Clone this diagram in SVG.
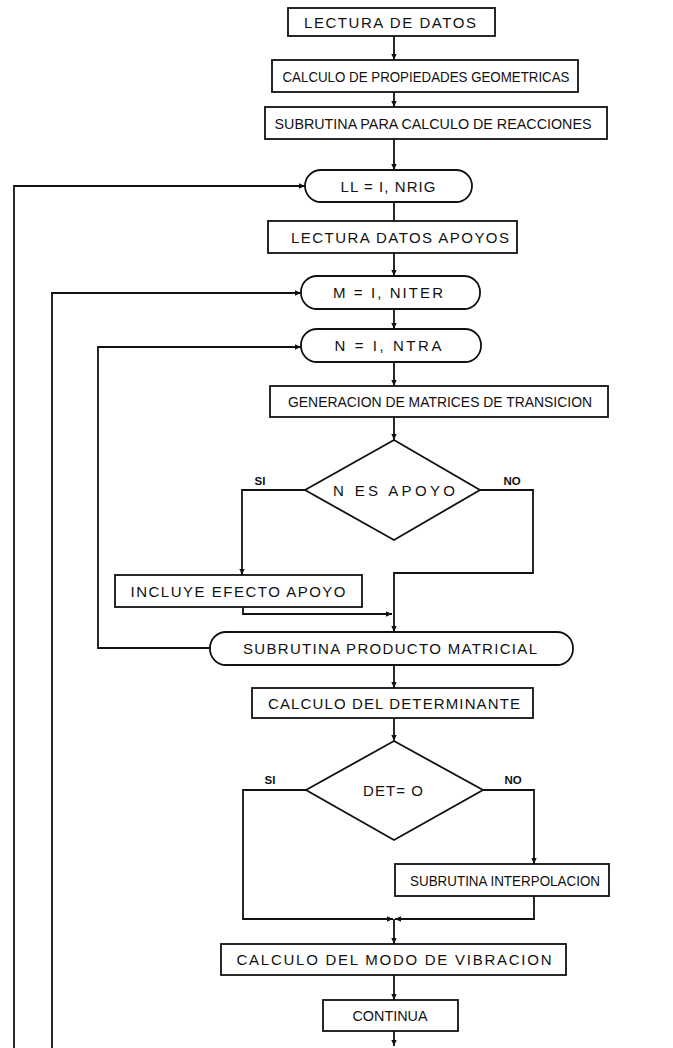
<svg xmlns="http://www.w3.org/2000/svg" width="673" height="1048" viewBox="0 0 673 1048">
<defs>
<style>
.box{fill:#fff;stroke:#111;stroke-width:1.8}
.ln{fill:none;stroke:#111;stroke-width:1.8}
.t{font-family:"Liberation Sans",Arial,sans-serif;font-size:15px;fill:#111;text-anchor:middle}
.lb{font-family:"Liberation Sans",Arial,sans-serif;font-size:11.5px;font-weight:bold;fill:#111;text-anchor:middle}
</style>
<marker id="ah" viewBox="0 0 10 10" refX="9" refY="5" markerWidth="7" markerHeight="7" orient="auto" markerUnits="userSpaceOnUse">
<path d="M0,1 L9,5 L0,9 z" fill="#111"/>
</marker>
</defs>
<rect width="673" height="1048" fill="#fff"/>
<g id="connectors">
<line class="ln" x1="394" y1="36" x2="394" y2="60" marker-end="url(#ah)"/>
<line class="ln" x1="394" y1="92" x2="394" y2="107" marker-end="url(#ah)"/>
<line class="ln" x1="394" y1="139" x2="394" y2="170" marker-end="url(#ah)"/>
<line class="ln" x1="394" y1="202" x2="394" y2="221"/>
<line class="ln" x1="394" y1="253" x2="394" y2="276" marker-end="url(#ah)"/>
<line class="ln" x1="394" y1="309" x2="394" y2="329" marker-end="url(#ah)"/>
<line class="ln" x1="394" y1="362" x2="394" y2="386" marker-end="url(#ah)"/>
<line class="ln" x1="394" y1="417" x2="394" y2="440" marker-end="url(#ah)"/>
<polyline class="ln" points="305,490 242,490 242,575" marker-end="url(#ah)"/>
<polyline class="ln" points="243,607 243,614 392,614" marker-end="url(#ah)"/>
<polyline class="ln" points="480,490 533,490 533,573 394,573 394,632" marker-end="url(#ah)"/>
<polyline class="ln" points="210,648 98,648 98,347 301,347" marker-end="url(#ah)"/>
<polyline class="ln" points="52,1048 52,293 301,293" marker-end="url(#ah)"/>
<polyline class="ln" points="14,1048 14,186 305,186" marker-end="url(#ah)"/>
<line class="ln" x1="394" y1="665" x2="394" y2="688" marker-end="url(#ah)"/>
<line class="ln" x1="394" y1="718" x2="394" y2="741" marker-end="url(#ah)"/>
<polyline class="ln" points="306,790 243,790 243,919 393,919" marker-end="url(#ah)"/>
<polyline class="ln" points="483,790 534,790 534,864" marker-end="url(#ah)"/>
<polyline class="ln" points="534,896 534,919 395,919" marker-end="url(#ah)"/>
<line class="ln" x1="394" y1="919" x2="394" y2="944" marker-end="url(#ah)"/>
<line class="ln" x1="394" y1="975" x2="394" y2="1000" marker-end="url(#ah)"/>
<line class="ln" x1="394" y1="1031" x2="394" y2="1046" marker-end="url(#ah)"/>
</g>
<g id="lectura-datos"><rect class="box" x="288" y="8" width="207" height="28"/><text class="t" x="390" y="28" textLength="172" lengthAdjust="spacing">LECTURA DE DATOS</text></g>
<g id="propiedades"><rect class="box" x="272" y="60" width="306" height="32"/><text class="t" x="426" y="81.5" textLength="287" lengthAdjust="spacingAndGlyphs">CALCULO DE PROPIEDADES GEOMETRICAS</text></g>
<g id="reacciones"><rect class="box" x="265" y="107" width="342" height="32"/><text class="t" x="433" y="128.5" textLength="317" lengthAdjust="spacingAndGlyphs">SUBRUTINA PARA CALCULO DE REACCIONES</text></g>
<g id="loop-ll"><rect class="box" x="305" y="170" width="167" height="32" rx="16"/><text class="t" x="388" y="191.5" textLength="95" lengthAdjust="spacing">LL = I, NRIG</text></g>
<g id="datos-apoyos"><rect class="box" x="268" y="221" width="249" height="32"/><text class="t" x="400" y="242.5" textLength="218" lengthAdjust="spacing">LECTURA DATOS APOYOS</text></g>
<g id="loop-m"><rect class="box" x="301" y="276" width="179" height="33" rx="16"/><text class="t" x="388" y="298" textLength="110" lengthAdjust="spacing">M = I, NITER</text></g>
<g id="loop-n"><rect class="box" x="301" y="329" width="180" height="33" rx="16"/><text class="t" x="388" y="351" textLength="107" lengthAdjust="spacing">N = I, NTRA</text></g>
<g id="generacion"><rect class="box" x="270" y="386" width="338" height="31"/><text class="t" x="440" y="407" textLength="304" lengthAdjust="spacingAndGlyphs">GENERACION DE MATRICES DE TRANSICION</text></g>
<g id="dec-apoyo"><polygon class="box" points="394,440 480,490 394,540 305,490"/><text class="t" x="394" y="496" textLength="122" lengthAdjust="spacing">N ES APOYO</text><text class="lb" x="260" y="485">SI</text><text class="lb" x="512" y="485">NO</text></g>
<g id="incluye"><rect class="box" x="115" y="575" width="247" height="32"/><text class="t" x="238" y="597" textLength="215" lengthAdjust="spacing">INCLUYE EFECTO APOYO</text></g>
<g id="producto"><rect class="box" x="210" y="632" width="363" height="33" rx="16"/><text class="t" x="390" y="654" textLength="294" lengthAdjust="spacing">SUBRUTINA PRODUCTO MATRICIAL</text></g>
<g id="determinante"><rect class="box" x="252" y="688" width="281" height="30"/><text class="t" x="394" y="708.5" textLength="252" lengthAdjust="spacing">CALCULO DEL DETERMINANTE</text></g>
<g id="dec-det"><polygon class="box" points="394,741 483,790 394,840 306,790"/><text class="t" x="393" y="795.5" textLength="60" lengthAdjust="spacing">DET= O</text><text class="lb" x="270" y="784">SI</text><text class="lb" x="513" y="784">NO</text></g>
<g id="interpolacion"><rect class="box" x="395" y="864" width="214" height="32"/><text class="t" x="505" y="885.5" textLength="190" lengthAdjust="spacingAndGlyphs">SUBRUTINA INTERPOLACION</text></g>
<g id="modo"><rect class="box" x="221" y="944" width="345" height="31"/><text class="t" x="394" y="965" textLength="315" lengthAdjust="spacing">CALCULO DEL MODO DE VIBRACION</text></g>
<g id="continua"><rect class="box" x="323" y="1000" width="135" height="31"/><text class="t" x="390" y="1021" textLength="75" lengthAdjust="spacingAndGlyphs">CONTINUA</text></g>
</svg>
